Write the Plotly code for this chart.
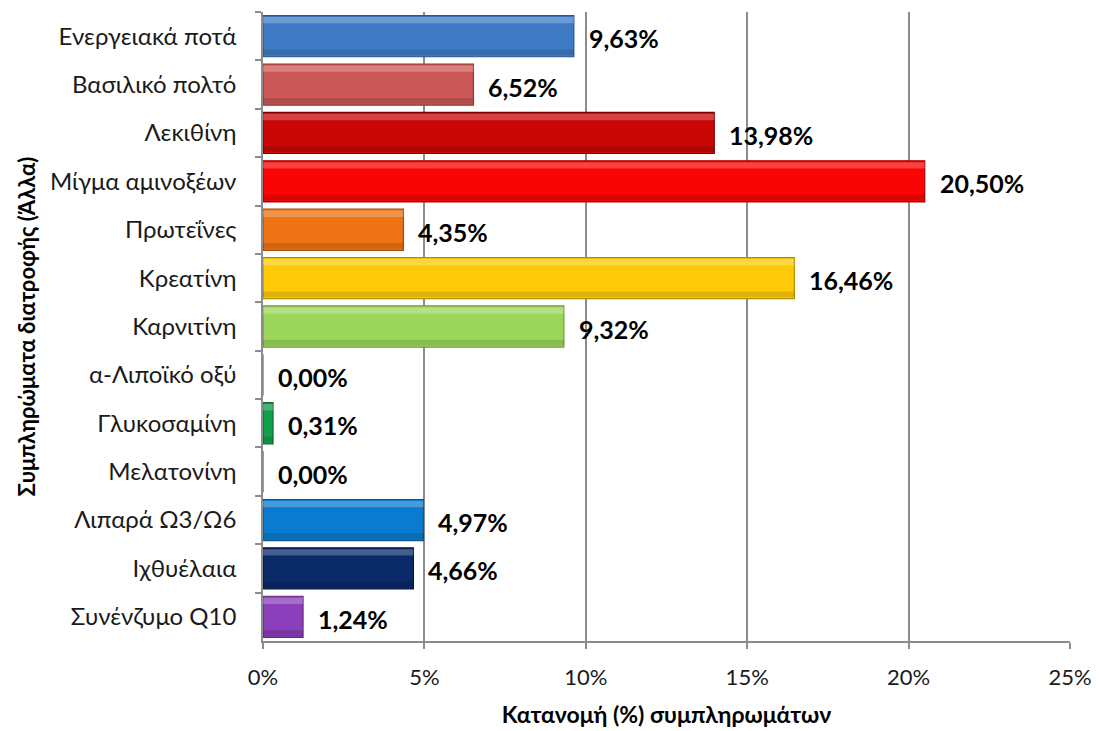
import plotly.graph_objects as go

# Supplement categories (top to bottom) and their share in percent
categories = [
    "Ενεργειακά ποτά",
    "Βασιλικό πολτό",
    "Λεκιθίνη",
    "Μίγμα αμινοξέων",
    "Πρωτεΐνες",
    "Κρεατίνη",
    "Καρνιτίνη",
    "α-Λιποϊκό οξύ",
    "Γλυκοσαμίνη",
    "Μελατονίνη",
    "Λιπαρά Ω3/Ω6",
    "Ιχθυέλαια",
    "Συνένζυμο Q10",
]
shares = [9.63, 6.52, 13.98, 20.50, 4.35, 16.46, 9.32, 0.00, 0.31, 0.00, 4.97, 4.66, 1.24]

bar_colors = [
    "#3F7BC4", "#CB5856", "#C80606", "#FA0505", "#EE7314", "#FFCB08", "#9BD65A",
    "#7FB24A", "#0FA04C", "#888888", "#0A7BCF", "#0B2A68", "#8B3FBA",
]
edge_colors = [
    "#2A5690", "#8E3B39", "#7E0000", "#A30000", "#A54E0A", "#B48E00", "#6E9A3C",
    "#5A7F33", "#0A6A32", "#555555", "#075591", "#061840", "#5E2A7E",
]
x_ticks = [0, 5, 10, 15, 20, 25]
x_tick_labels = ["0%", "5%", "10%", "15%", "20%", "25%"]

FONT = "Lato, 'Open Sans', 'Noto Sans', sans-serif"
BAR_W = 0.85

fig = go.Figure()
fig.add_trace(go.Bar(
    y=categories,
    x=shares,
    orientation="h",
    width=BAR_W,
    marker=dict(color=bar_colors, line=dict(color=edge_colors, width=1.2)),
    hoverinfo="skip",
))
# bevel: light band along the upper edge, darker band along the lower edge
fig.add_trace(go.Bar(
    y=categories, x=shares, orientation="h",
    width=0.13, offset=-BAR_W / 2 + 0.03,
    marker=dict(color="rgba(255,255,255,0.24)", line=dict(width=0)),
    hoverinfo="skip",
))
fig.add_trace(go.Bar(
    y=categories, x=shares, orientation="h",
    width=0.12, offset=BAR_W / 2 - 0.15,
    marker=dict(color="rgba(0,0,0,0.12)", line=dict(width=0)),
    hoverinfo="skip",
))

# value labels placed just beyond each bar end
for cat, val in zip(categories, shares):
    fig.add_annotation(
        x=val, y=cat, xref="x", yref="y",
        text=f"<b>{val:.2f}%</b>".replace(".", ","),
        showarrow=False, xanchor="left", yanchor="middle",
        xshift=13, yshift=-2,
        font=dict(family=FONT, size=25, color="#000000"),
    )

fig.update_layout(
    width=1099, height=731,
    margin=dict(l=263, r=29, t=12, b=90),
    paper_bgcolor="white", plot_bgcolor="white",
    barmode="overlay",
    showlegend=False,
    font=dict(family=FONT, size=17, color="#1a1a1a"),
    xaxis=dict(
        range=[0, 25], tickvals=x_ticks, ticktext=x_tick_labels,
        automargin=False,
        showgrid=True, gridcolor="#8C8C8C", gridwidth=1.5,
        showline=True, linecolor="#8C8C8C", linewidth=1.5,
        ticks="outside", ticklen=6, tickcolor="#8C8C8C", tickwidth=1.5,
        ticklabelstandoff=10,
        tickfont=dict(family=FONT, size=22, color="#1a1a1a"),
        zeroline=False,
        title=dict(text="<b>Κατανομή (%) συμπληρωμάτων</b>",
                   font=dict(family=FONT, size=23, color="#000000"), standoff=18),
    ),
    yaxis=dict(
        autorange="reversed",
        automargin=False,
        showline=True, linecolor="#8C8C8C", linewidth=1.5,
        ticks="outside", ticklen=6, tickcolor="#8C8C8C", tickwidth=1.5,
        tickson="boundaries",
        ticklabelstandoff=20,
        tickfont=dict(family=FONT, size=24, color="#1a1a1a"),
        showgrid=False,
        title=dict(text="<b>Συμπληρώματα διατροφής (Άλλα)</b>",
                   font=dict(family=FONT, size=22, color="#000000"), standoff=8),
    ),
)

fig.write_html("out.html")
